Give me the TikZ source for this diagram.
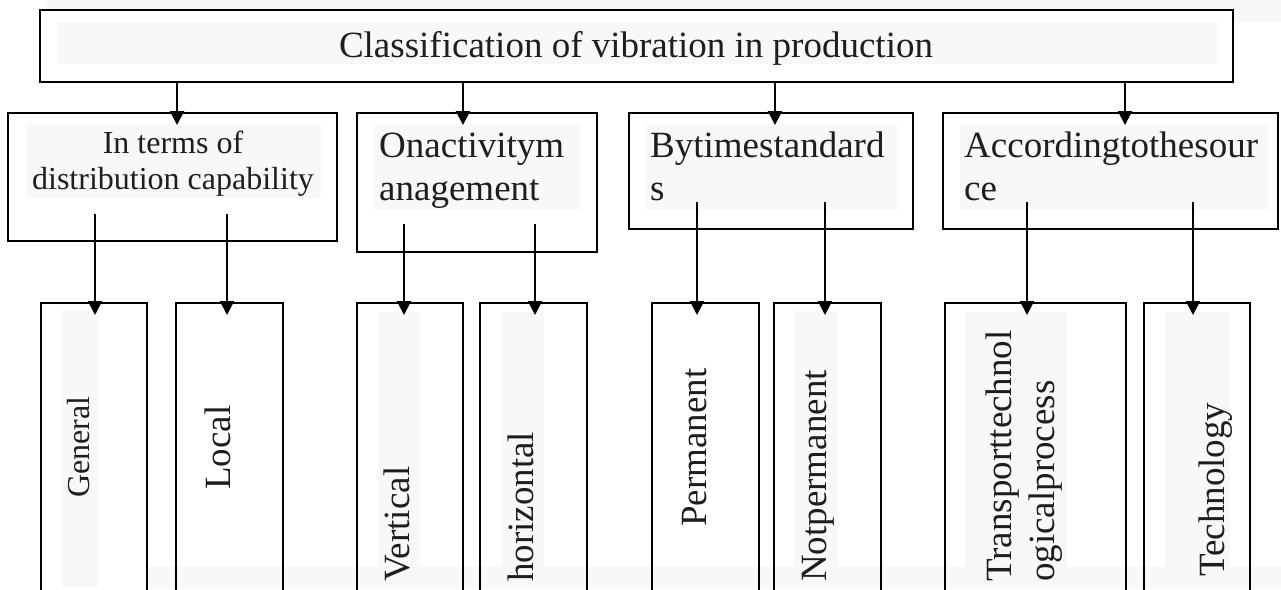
\documentclass[tikz,border=0pt]{standalone}
\usepackage{fontspec}
\setmainfont{Liberation Serif}
\usetikzlibrary{arrows.meta}
\definecolor{hlgray}{RGB}{247,248,250}
\definecolor{txtgray}{RGB}{30,30,30}
\begin{document}
\begin{tikzpicture}[x=1pt,y=-1pt,
    box/.style ={draw, line width=2.3pt, outer sep=0pt, inner sep=0pt, anchor=north west},
    leaf/.style ={box, minimum height=337pt},
    lbl/.style ={inner sep=0pt, text=txtgray, font=\fontsize{37}{43}\selectfont},
    smalllbl/.style ={lbl, font=\fontsize{32}{36}\selectfont},
    arr/.style ={line width=2pt, shorten >=-12pt, -{Triangle[length=14pt,width=14pt]}}]
   \clip (0,0) rectangle (1281,589);
   \fill[hlgray] (47,0) rectangle (1281,22);
   \fill[hlgray] (147,566) rectangle (1281,589);
   % top box
   \node[box, fill=white, minimum width=1193pt, minimum height=72pt] (cls)  at (40,10)  {};
   \fill[hlgray] (57,22) rectangle (1217,64);
   \node[lbl, anchor=base] (clst)  at (636,57)  {Classification of vibration in production};
   % second row
   \node[box, minimum width=329pt, minimum height=128pt] (dist)  at (8,113)  {};
   \node[box, minimum width=240pt, minimum height=139pt] (act)  at (357,113)  {};
   \node[box, minimum width=284pt, minimum height=116pt] (time)  at (629,113)  {};
   \node[box, minimum width=335pt, minimum height=116pt] (src)  at (943,113)  {};
   \fill[hlgray] (26,124) rectangle (321,198);
   \fill[hlgray] (374,124) rectangle (580,210);
   \fill[hlgray] (646,124) rectangle (897,210);
   \fill[hlgray] (960,124) rectangle (1268,210);
   \node[smalllbl, anchor=base] (distt)  at (173,153)  {In terms of};
   \node[smalllbl, anchor=base] (disttt)  at (173,189)  {distribution capability};
   \node[lbl, anchor=base west] (actt)  at (379,157)  {Onactivitym};
   \node[lbl, anchor=base west] (acttt)  at (379,200)  {anagement};
   \node[lbl, anchor=base west] (timet)  at (650,157)  {Bytimestandard};
   \node[lbl, anchor=base west] (timett)  at (650,200)  {s};
   \node[lbl, anchor=base west] (srct)  at (964,157)  {Accordingtothesour};
   \node[lbl, anchor=base west] (srctt)  at (964,200)  {ce};
   % bottom row
   \node[leaf, minimum width=106pt] (general)  at (41,303)  {};
   \node[leaf, minimum width=107pt] (local)  at (176,303)  {};
   \node[leaf, minimum width=106pt] (vert)  at (357,303)  {};
   \node[leaf, minimum width=107pt] (horiz)  at (480,303)  {};
   \node[leaf, minimum width=107pt] (perm)  at (652,303)  {};
   \node[leaf, minimum width=107pt] (nonperm)  at (774,303)  {};
   \node[leaf, minimum width=181pt] (transp)  at (945,303)  {};
   \node[leaf, minimum width=106pt] (techn)  at (1144,303)  {};
   \fill[hlgray] (62,310) rectangle (98,587);
   \fill[hlgray] (378,312) rectangle (420,589);
   \fill[hlgray] (502,312) rectangle (544,589);
   \fill[hlgray] (794,311) rectangle (838,589);
   \fill[hlgray] (965,312) rectangle (1067,589);
   \fill[hlgray] (1165,312) rectangle (1230,589);
   \node[smalllbl, rotate=90, anchor=base west] (generalt)  at (89,498)  {General};
   \node[lbl, rotate=90, anchor=base west] (localt)  at (230,490)  {Local};
   \node[lbl, rotate=90, anchor=base west] (vertt)  at (409,582)  {Vertical};
   \node[lbl, rotate=90, anchor=base west] (horizt)  at (533,582)  {horizontal};
   \node[lbl, rotate=90, anchor=base west] (permt)  at (706,527)  {Permanent};
   \node[lbl, rotate=90, anchor=base west] (nonpermt)  at (826,582)  {Notpermanent};
   \node[lbl, rotate=90, anchor=base west] (transpt)  at (1011,582)  {Transporttechnol};
   \node[lbl, rotate=90, anchor=base west] (transptt)  at (1054,582)  {ogicalprocess};
   \node[lbl, rotate=90, anchor=base west] (technt)  at (1224,577)  {Technology};
   % arrows
   \draw[arr] ([xshift=4.5pt]dist.north |- cls.south) -- ([xshift=4.5pt]dist.north);
   \draw[arr] ([xshift=-14pt]act.north |- cls.south) -- ([xshift=-14pt]act.north);
   \draw[arr] ([xshift=4pt]time.north |- cls.south) -- ([xshift=4pt]time.north);
   \draw[arr] ([xshift=14.5pt]src.north |- cls.south) -- ([xshift=14.5pt]src.north);
   \draw[arr] ([xshift=1pt]general.north |- dist.south) ++(0,-27) -- ([xshift=1pt]general.north);
   \draw[arr] ([xshift=-2.5pt]local.north |- dist.south) ++(0,-27) -- ([xshift=-2.5pt]local.north);
   \draw[arr] ([xshift=-6pt]vert.north |- act.south) ++(0,-28) -- ([xshift=-6pt]vert.north);
   \draw[arr] ([xshift=1.5pt]horiz.north |- act.south) ++(0,-28) -- ([xshift=1.5pt]horiz.north);
   \draw[arr] ([xshift=-8.5pt]perm.north |- time.south) ++(0,-27) -- ([xshift=-8.5pt]perm.north);
   \draw[arr] ([xshift=-2.5pt]nonperm.north |- time.south) ++(0,-27) -- ([xshift=-2.5pt]nonperm.north);
   \draw[arr] ([xshift=-8.5pt]transp.north |- src.south) ++(0,-27) -- ([xshift=-8.5pt]transp.north);
   \draw[arr] ([xshift=-4pt]techn.north |- src.south) ++(0,-27) -- ([xshift=-4pt]techn.north);
 \end{tikzpicture}
\end{document}
